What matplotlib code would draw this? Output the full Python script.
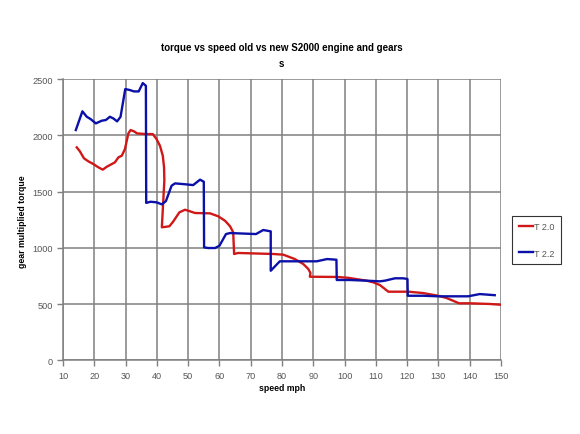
import matplotlib
matplotlib.use("Agg")
import matplotlib.pyplot as plt

plt.rcParams['font.family'] = ['Liberation Sans', 'DejaVu Sans']

# T 2.0 (old) - speed mph / gear multiplied torque
speed_20 = [14.4, 15.4, 16.7, 18.1, 19.7, 21.3, 22.7, 24.0, 25.6, 26.6, 27.7, 28.8, 29.8,
            30.9, 31.6, 32.7, 33.7, 36.7, 38.7, 39.9, 41.0, 41.9, 42.3, 42.4, 41.6,
            44.0, 45.2, 47.2, 49.0, 50.6, 52.2, 57.0, 59.6, 61.8, 63.4, 64.4, 64.7,
            66.0, 69.7, 77.2, 80.4, 84.1, 86.8, 88.4, 89.1, 88.9, 97.4, 101.0, 107.0,
            109.2, 111.3, 114.0, 120.4, 125.1, 129.9, 132.6, 136.6, 140.0, 146.4, 150.0]
torque_20 = [1893, 1858, 1796, 1769, 1745, 1716, 1695, 1721, 1745, 1760, 1804, 1819, 1878,
             2017, 2047, 2035, 2017, 2011, 2011, 1967, 1907, 1819, 1716, 1600, 1183,
             1192, 1233, 1316, 1339, 1325, 1310, 1307, 1281, 1241, 1192, 1139, 946,
             955, 952, 946, 940, 901, 857, 813, 777, 744, 742, 735, 709,
             694, 670, 611, 611, 599, 575, 555, 508, 508, 502, 495]

# T 2.2 (new)
speed_22 = [14.1, 16.2, 17.6, 18.8, 20.5, 22.4, 23.7, 25.0, 26.1, 27.3, 28.4, 29.9, 31.4,
            32.7, 34.2, 35.5, 36.5, 36.6, 38.0, 39.9, 41.6, 42.9, 44.7, 45.8, 48.4,
            51.6, 53.8, 55.0, 55.1, 56.4, 58.6, 60.0, 62.1, 63.4, 71.7, 74.0, 76.4,
            76.4, 79.3, 81.5, 91.1, 94.4, 97.4, 97.5, 101.7, 107.0, 111.3, 112.9, 116.1,
            118.7, 120.1, 120.2, 125.1, 129.9, 139.5, 143.2, 148.0]
torque_22 = [2047, 2213, 2165, 2145, 2106, 2130, 2136, 2165, 2150, 2124, 2165, 2411, 2402,
             2390, 2390, 2464, 2440, 1400, 1410, 1405, 1387, 1416, 1552, 1573, 1567,
             1558, 1606, 1588, 1005, 999, 999, 1019, 1123, 1132, 1123, 1159, 1147,
             797, 881, 881, 881, 901, 895, 715, 715, 709, 703, 709, 730,
             730, 724, 575, 575, 570, 570, 590, 580]

x_ticks = list(range(10, 151, 10))
y_ticks = list(range(0, 2501, 500))

fig = plt.figure(figsize=(5.8, 4.35), dpi=100)
ax = fig.add_axes([0.1086, 0.169, 0.7552, 0.647])

grid_col = '#808080'
ax.plot(speed_20, torque_20, color='#d01818', lw=1.7, label='T 2.0', zorder=3)
ax.plot(speed_22, torque_22, color='#0a10a8', lw=1.7, label='T 2.2', zorder=4)

ax.set_xlim(10, 150)
ax.set_ylim(0, 2500)
ax.set_xticks(x_ticks)
ax.set_yticks(y_ticks)
ax.grid(True, color=grid_col, lw=1.1)
ax.set_axisbelow(True)
for s in ['top', 'right']:
    ax.spines[s].set_visible(False)
for s in ['left', 'bottom']:
    ax.spines[s].set_color(grid_col)
    ax.spines[s].set_linewidth(1.1)
ax.tick_params(colors=grid_col, labelcolor='#555555', labelsize=6.6, length=4, width=1, direction='out')

fig.text(0.486, 0.89, 'torque vs speed old vs new S2000 engine and gears', ha='center', va='center',
         fontsize=7, fontweight='bold')
fig.text(0.486, 0.853, 's', ha='center', va='center', fontsize=7, fontweight='bold')
fig.text(0.486, 0.108, 'speed mph', ha='center', va='center', fontsize=6.3, fontweight='bold')
fig.text(0.038, 0.49, 'gear multiplied torque', ha='center', va='center', rotation=90,
         fontsize=6.3, fontweight='bold')

leg = fig.legend(loc='center', bbox_to_anchor=(0.925, 0.446), fontsize=6.5, frameon=True,
                 fancybox=False, edgecolor='black', handlelength=1.6, handletextpad=0.1,
                 labelspacing=1.9, borderpad=0.7, borderaxespad=0)
leg.get_frame().set_linewidth(0.8)
for t in leg.get_texts():
    t.set_color('#555555')

fig.savefig('out.png', dpi=100)
